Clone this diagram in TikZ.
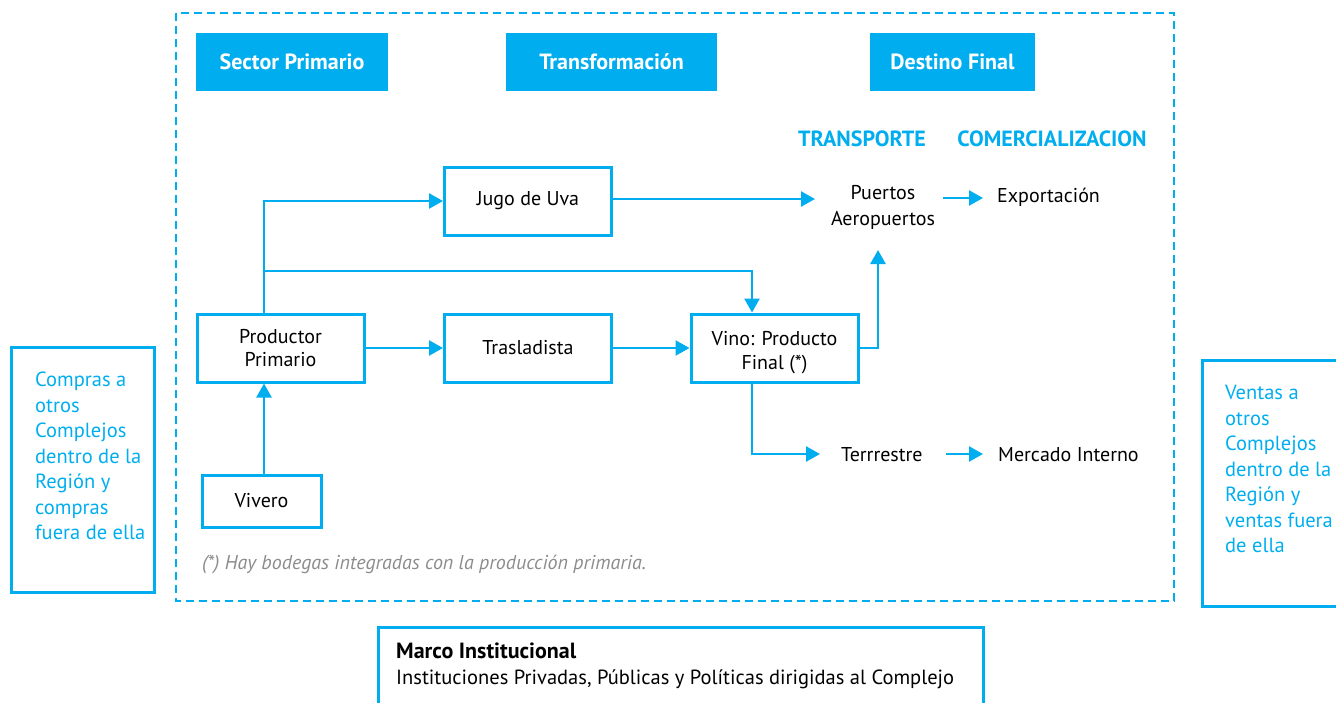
\documentclass[tikz,border=0pt]{standalone}
\usepackage{fontspec}
\setmainfont{PT Sans}
\usetikzlibrary{arrows.meta}
\definecolor{cy}{HTML}{00AEEF}
\definecolor{note}{HTML}{8C8C8C}
\begin{document}
\begin{tikzpicture}[x=1pt,y=-1pt,
  box/.style={draw=cy, line width=3pt, minimum width=167pt, minimum height=68pt, align=center, inner sep=0pt, font=\fontsize{20}{23.5}\selectfont},
  head/.style={fill=cy, text=white, minimum height=58pt, inner sep=0pt, font=\fontsize{22}{24}\selectfont\bfseries},
  lab/.style={align=center, inner sep=0pt, font=\fontsize{20}{26}\selectfont},
  caplab/.style={text=cy, inner sep=0pt, font=\fontsize{22}{24}\selectfont\bfseries},
  side/.style={draw=cy, line width=3pt, inner sep=0pt},
  sidetext/.style={text=cy, align=left, inner sep=0pt, font=\fontsize{20.5}{25.5}\selectfont},
  arr/.style={draw=cy, line width=2.5pt, -{Triangle[length=14pt,width=15pt]}}]
\clip (0,0) rectangle (1336,702);
\useasboundingbox (0,0) rectangle (1336,702);
% dashed frame
\draw[cy, line width=2.5pt, dash pattern=on 8pt off 5pt] (176,13) rectangle (1174,601);
% headers
\node[head, minimum width=192pt] (h1) at (292,62) {Sector Primario};
\node[head, minimum width=211pt] (h2) at (611.5,62) {Transformación};
\node[head, minimum width=165pt] (h3) at (952.5,62) {Destino Final};
\node[caplab] (trans) at (862,139) {TRANSPORTE};
\node[caplab] (comer) at (1052,139) {COMERCIALIZACION};
% boxes
\node[box] (jugo) at (528,201) {Jugo de Uva};
\node[box] (prod) at (280.5,348) {Productor\\Primario};
\node[box] (tras) at (528,348) {Trasladista};
\node[box] (vino) at (774.5,348) {\rule{0pt}{23pt}Vino: Producto\\Final (*)};
\node[box, minimum width=119pt, minimum height=52pt] (viv) at (261.5,501) {Vivero};
% free labels
\node[lab] (puertos) at (883,207) {Puertos\\Aeropuertos};
\node[lab, anchor=west] (expo) at (997,197) {Exportación};
\node[lab, anchor=west] (terr) at (841,455) {Terrrestre};
\node[lab, anchor=west] (merc) at (998,455) {Mercado Interno};
\node[anchor=west, inner sep=0pt, text=note, font=\fontsize{20}{22}\selectfont\itshape] (nota) at (202,564) {(*) Hay bodegas integradas con la producción primaria.};
% side boxes
\node[side, minimum width=143pt, minimum height=245pt, anchor=north west] (compras) at (10,346) {};
\node[sidetext, anchor=north west] (comprasT) at (35,372) {Compras a\\otros\\Complejos\\dentro de la\\Región y\\compras\\fuera de ella};
\node[side, minimum width=160pt, minimum height=246pt, anchor=north west] (ventas) at (1201,359) {};
\node[sidetext, anchor=north west] (ventasT) at (1225,385) {Ventas a\\otros\\Complejos\\dentro de la\\Región y\\ventas fuera\\de ella};
% bottom box
\node[side, minimum width=605pt, minimum height=100pt, anchor=north west] (marco) at (377,626) {};
\node[anchor=north west, align=left, inner sep=0pt, font=\fontsize{20.5}{26}\selectfont] (marcoT) at (396,643) {{\fontsize{22}{24}\selectfont\bfseries Marco Institucional}\\Instituciones Privadas, Públicas y Políticas dirigidas al Complejo};
% connectors
\coordinate (b1) at (264,271);
\draw[arr] (prod.north -| b1) |- (jugo.west);
\draw[arr] (b1) -| (vino.north -| 752,0);
\draw[arr] (prod) -- (tras);
\draw[arr] (tras) -- (vino);
\coordinate (up) at (878,250);
\draw[arr] (vino.east) -| (up);
\coordinate (j2) at (815,199);
\draw[arr] (jugo.east |- j2) -- (j2);
\coordinate (p1) at (943,198);
\coordinate (p2) at (983,198);
\draw[arr] (p1) -- (p2);
\coordinate (t0) at (820,454);
\draw[arr] (vino.south -| 752,0) |- (t0);
\coordinate (m1) at (946,454);
\coordinate (m2) at (983,454);
\draw[arr] (m1) -- (m2);
\draw[arr] (viv.north -| b1) -- (prod.south -| b1);
\end{tikzpicture}
\end{document}
